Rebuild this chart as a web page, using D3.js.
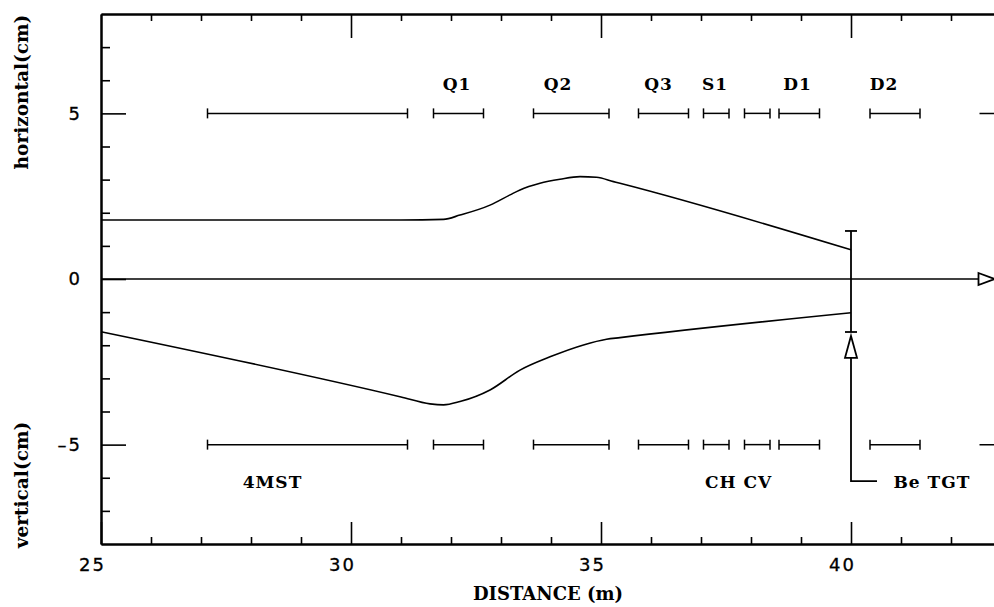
<!DOCTYPE html>
<html>
<head>
<meta charset="utf-8">
<script src="https://cdn.jsdelivr.net/npm/d3@7"></script>
<style>
  html, body { margin: 0; padding: 0; background: #fff; }
  svg { display: block; }
  .tick text { font-family: "DejaVu Sans", sans-serif; font-size: 18px; letter-spacing: 2px; fill: #000; stroke: #000; stroke-width: 0.3px; }
  .lbl { font-family: "DejaVu Serif", serif; font-weight: bold; fill: #000; }
</style>
</head>
<body>
<svg id="chart" width="994" height="607"></svg>
<script>
// ---------------- data ----------------
const xMajorTicks = [25, 30, 35, 40];
const xMinorTicks = [26, 27, 28, 29, 31, 32, 33, 34, 36, 37, 38, 39, 41, 42];
const yMajorTicks = [-5, 0, 5];
const yMinorTicks = [-7, -6, -4, -3, -2, -1, 1, 2, 3, 4, 6, 7];

// horizontal envelope (upper, cm) vs distance (m)
const horizDist = [25.0, 31.0, 31.85, 32.18, 32.78, 33.18, 33.38, 33.78, 34.18, 34.58, 34.91, 35.25, 35.38, 40.0];
const horizVal  = [1.78, 1.78, 1.80, 1.93, 2.23, 2.54, 2.69, 2.89, 3.01, 3.09, 3.07, 2.94, 2.89, 0.88];

// vertical envelope (lower, cm) vs distance (m)
const vertDist = [25.0, 31.0, 31.58, 31.85, 32.18, 32.78, 33.38, 33.98, 34.65, 35.11, 35.38, 40.0];
const vertVal  = [-1.59, -3.56, -3.77, -3.80, -3.70, -3.35, -2.75, -2.35, -1.99, -1.82, -1.77, -1.02];

// beamline elements (drawn at +5 and -5)
const elemStart = [27.13, 31.65, 33.65, 35.75, 37.05, 37.87, 38.56, 40.38, 42.57];
const elemEnd   = [31.13, 32.65, 35.16, 36.75, 37.56, 38.38, 39.37, 41.38, 43.6];
const elemCapped = [true, true, true, true, true, true, true, true, false];
const elemLevels = [5, -5];

// element labels
const topLabels = ["Q1", "Q2", "Q3", "S1", "D1", "D2"];
const topLabelX = [32.12, 34.14, 36.15, 37.28, 38.93, 40.66];
const bottomLabels = ["4MST", "CH CV"];
const bottomLabelX = [28.43, 37.75];

// target
const targetX = 40.0;
const targetTop = 1.45;
const targetBottom = -1.6;
const targetArrowTip = -1.72;
const targetArrowBase = -2.38;
const targetLeaderY = -6.1;
const targetLeaderX = 40.52;
const targetLabel = "Be TGT";
const targetLabelX = 40.85;

// beam axis arrow
const beamAxisEnd = 42.55;
const beamArrowTip = 42.87;

// ---------------- layout ----------------
const svg = d3.select("#chart");
const L = 101, R = 1001, T = 14, B = 544;
const x = d3.scaleLinear().domain([25, 43]).range([L, R]);
const y = d3.scaleLinear().domain([-8, 8]).range([B, T]);

const ink = "#000";

function styleAxis(g) {
  g.select(".domain").attr("stroke", ink).attr("stroke-width", 2);
  g.selectAll(".tick line").attr("stroke", ink).attr("stroke-width", 1.6);
}

// bottom axis
svg.append("g").attr("transform", `translate(0,${B})`)
  .call(d3.axisBottom(x).tickValues(xMinorTicks).tickSize(-7).tickSizeOuter(0).tickFormat(""))
  .call(styleAxis);
svg.append("g").attr("transform", `translate(0,${B})`)
  .call(d3.axisBottom(x).tickValues(xMajorTicks).tickSize(-22).tickSizeOuter(0).tickPadding(14).tickFormat(d3.format("d")))
  .call(styleAxis)
  .call(g => g.selectAll(".tick text").attr("dx", -9));

// top axis
svg.append("g").attr("transform", `translate(0,${T})`)
  .call(d3.axisTop(x).tickValues(xMinorTicks).tickSize(-7).tickSizeOuter(0).tickFormat(""))
  .call(styleAxis);
svg.append("g").attr("transform", `translate(0,${T})`)
  .call(d3.axisTop(x).tickValues(xMajorTicks.filter(v => v !== 25)).tickSize(-24).tickSizeOuter(0).tickFormat(""))
  .call(styleAxis);

// left axis
svg.append("g").attr("transform", `translate(${L},0)`)
  .call(d3.axisLeft(y).tickValues(yMinorTicks).tickSize(-9).tickSizeOuter(0).tickFormat(""))
  .call(styleAxis);
svg.append("g").attr("transform", `translate(${L},0)`)
  .call(d3.axisLeft(y).tickValues(yMajorTicks).tickSize(-25).tickSizeOuter(0).tickPadding(19).tickFormat(d => d < 0 ? "\u2013" + Math.abs(d) : String(d)))
  .call(styleAxis);

// axis titles
svg.append("text").attr("class", "lbl")
  .attr("transform", `translate(28,${92}) rotate(-90)`)
  .attr("text-anchor", "middle").attr("font-size", 18.5)
  .text("horizontal(cm)");
svg.append("text").attr("class", "lbl")
  .attr("transform", `translate(28,${485}) rotate(-90)`)
  .attr("text-anchor", "middle").attr("font-size", 18.5)
  .text("vertical(cm)");
svg.append("text").attr("class", "lbl")
  .attr("x", 548).attr("y", 600)
  .attr("text-anchor", "middle").attr("font-size", 18)
  .text("DISTANCE (m)");

// beam axis line with open arrow
svg.append("line")
  .attr("x1", x(25)).attr("x2", x(beamAxisEnd))
  .attr("y1", y(0)).attr("y2", y(0))
  .attr("stroke", ink).attr("stroke-width", 1.6);
svg.append("path")
  .attr("d", `M${x(beamAxisEnd)},${y(0) - 6}L${x(beamArrowTip)},${y(0)}L${x(beamAxisEnd)},${y(0) + 6}Z`)
  .attr("fill", "#fff").attr("stroke", ink).attr("stroke-width", 1.8);

// envelopes
const line = d3.line().x(d => x(d[0])).y(d => y(d[1])).curve(d3.curveMonotoneX);
svg.append("path")
  .attr("d", line(horizDist.map((d, i) => [d, horizVal[i]])))
  .attr("fill", "none").attr("stroke", ink).attr("stroke-width", 1.6);
svg.append("path")
  .attr("d", line(vertDist.map((d, i) => [d, vertVal[i]])))
  .attr("fill", "none").attr("stroke", ink).attr("stroke-width", 1.6);

// elements
const elems = elemStart.map((s, i) => ({ s, e: elemEnd[i], capped: elemCapped[i] }));
elemLevels.forEach(lv => {
  const g = svg.append("g");
  g.selectAll("line.seg").data(elems).join("line")
    .attr("x1", d => x(d.s)).attr("x2", d => x(d.e))
    .attr("y1", y(lv)).attr("y2", y(lv))
    .attr("stroke", ink).attr("stroke-width", 1.5);
  const caps = [];
  elems.forEach(d => { if (d.capped) { caps.push(d.s); caps.push(d.e); } });
  g.selectAll("line.cap").data(caps).join("line")
    .attr("x1", d => x(d)).attr("x2", d => x(d))
    .attr("y1", y(lv) - 5).attr("y2", y(lv) + 5)
    .attr("stroke", ink).attr("stroke-width", 1.5);
});

// element labels
svg.selectAll("text.top").data(topLabels).join("text")
  .attr("class", "lbl").attr("font-size", 17)
  .attr("x", (d, i) => x(topLabelX[i])).attr("y", 90)
  .attr("text-anchor", "middle").style("letter-spacing", "1px")
  .text(d => d);
svg.selectAll("text.bot").data(bottomLabels).join("text")
  .attr("class", "lbl").attr("font-size", 17)
  .attr("x", (d, i) => x(bottomLabelX[i])).attr("y", 488)
  .attr("text-anchor", "middle").style("letter-spacing", "1px")
  .text(d => d);

// target
const tx = x(targetX);
svg.append("line").attr("x1", tx).attr("x2", tx).attr("y1", y(targetTop)).attr("y2", y(targetBottom))
  .attr("stroke", ink).attr("stroke-width", 1.8);
[targetTop, targetBottom].forEach(v => {
  svg.append("line").attr("x1", tx - 6).attr("x2", tx + 6).attr("y1", y(v)).attr("y2", y(v))
    .attr("stroke", ink).attr("stroke-width", 1.8);
});
svg.append("path")
  .attr("d", `M${tx},${y(targetArrowTip)}L${tx + 6},${y(targetArrowBase)}L${tx - 6},${y(targetArrowBase)}Z`)
  .attr("fill", "#fff").attr("stroke", ink).attr("stroke-width", 1.8);
svg.append("path")
  .attr("d", `M${tx},${y(targetArrowBase)}L${tx},${y(targetLeaderY)}L${x(targetLeaderX)},${y(targetLeaderY)}`)
  .attr("fill", "none").attr("stroke", ink).attr("stroke-width", 1.8);
svg.append("text").attr("class", "lbl").attr("font-size", 17)
  .attr("x", x(targetLabelX)).attr("y", 488).style("letter-spacing", "1px")
  .text(targetLabel);
</script>
</body>
</html>
